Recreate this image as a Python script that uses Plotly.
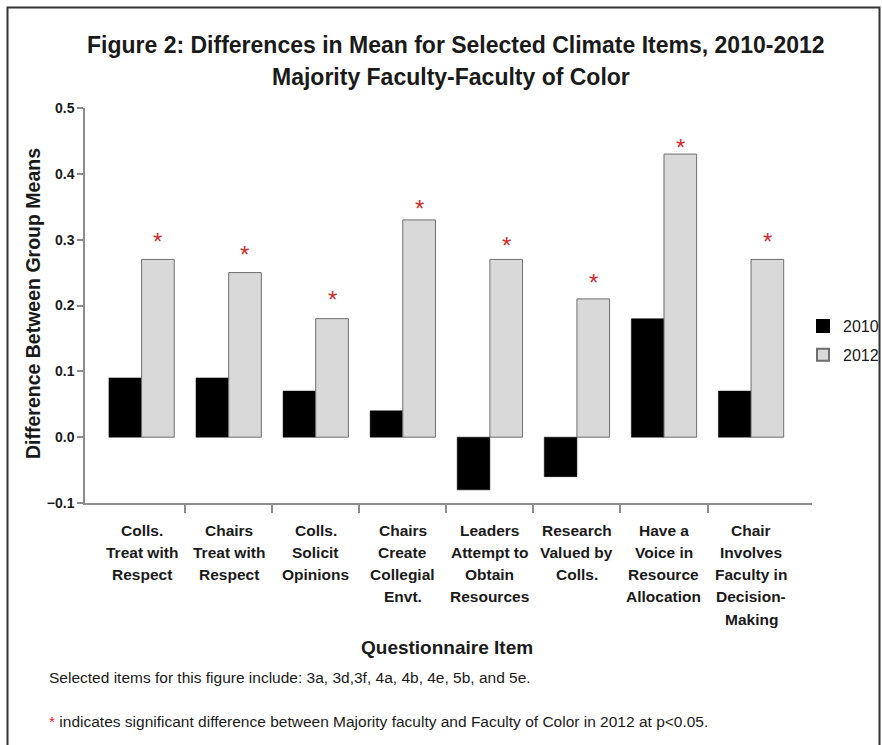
import plotly.graph_objects as go

# Questionnaire items (one entry per text line) and group-mean differences
items = [
    ["Colls.", "Treat with", "Respect"],
    ["Chairs", "Treat with", "Respect"],
    ["Colls.", "Solicit", "Opinions"],
    ["Chairs", "Create", "Collegial", "Envt."],
    ["Leaders", "Attempt to", "Obtain", "Resources"],
    ["Research", "Valued by", "Colls."],
    ["Have a", "Voice in", "Resource", "Allocation"],
    ["Chair", "Involves", "Faculty in", "Decision-", "Making"],
]
diff_2010 = [0.09, 0.09, 0.07, 0.04, -0.08, -0.06, 0.18, 0.07]
diff_2012 = [0.27, 0.25, 0.18, 0.33, 0.27, 0.21, 0.43, 0.27]
# height at which each significance asterisk is printed
star_level = [0.302, 0.282, 0.213, 0.352, 0.296, 0.240, 0.444, 0.302]
y_ticks = [-0.1, 0.0, 0.1, 0.2, 0.3, 0.4, 0.5]

FONT = "Liberation Sans, Arial, sans-serif"
INK = "#1a1a1a"
RED = "#d42a2a"
AXIS_GRAY = "#8c8c8c"

W, H = 882, 745
L, R, T, B = 85, 70, 108, 242
plot_w = W - L - R
plot_h = H - T - B


def px_x(p):
    return (p - L) / plot_w


def px_y(p):
    return (H - B - p) / plot_h


xs = list(range(len(items)))
BARGAP = 0.25
bar_w = (1 - BARGAP) / 2

fig = go.Figure()
fig.add_trace(go.Bar(
    x=xs, y=diff_2010, name="2010", legendgroup="a",
    marker=dict(color="#000000", line=dict(color="#000000", width=0.5)),
))
fig.add_trace(go.Bar(
    x=xs, y=diff_2012, name="2012", legendgroup="b",
    marker=dict(color="#d9d9d9", line=dict(color="#6e6e6e", width=1)),
))

annotations = []
# significance asterisks over the 2012 bars
for i, lvl in enumerate(star_level):
    annotations.append(dict(
        x=i + bar_w / 2, y=lvl, xref="x", yref="y", text="*",
        showarrow=False, yanchor="middle", yshift=-3,
        font=dict(family=FONT, size=24, color=RED),
    ))
# category labels under the axis, one annotation per line
LINE_STEP = 22.3
for i, lines in enumerate(items):
    for k, line in enumerate(lines):
        annotations.append(dict(
            x=i, y=px_y(530 + LINE_STEP * k), xref="x", yref="paper",
            text="<b>" + line + "</b>", showarrow=False,
            xanchor="center", yanchor="middle",
            font=dict(family=FONT, size=15.5, color=INK),
        ))

annotations += [
    dict(x=px_x(456), y=px_y(45), xref="paper", yref="paper",
         text="<b>Figure 2: Differences in Mean for Selected Climate Items, 2010-2012</b>",
         showarrow=False, xanchor="center", yanchor="middle",
         font=dict(family=FONT, size=23, color=INK)),
    dict(x=px_x(451), y=px_y(77), xref="paper", yref="paper",
         text="<b>Majority Faculty-Faculty of Color</b>",
         showarrow=False, xanchor="center", yanchor="middle",
         font=dict(family=FONT, size=23, color=INK)),
    dict(x=px_x(33), y=px_y(304), xref="paper", yref="paper",
         text="<b>Difference Between Group Means</b>", textangle=-90,
         showarrow=False, xanchor="center", yanchor="middle",
         font=dict(family=FONT, size=19.5, color=INK)),
    dict(x=px_x(447), y=px_y(647), xref="paper", yref="paper",
         text="<b>Questionnaire Item</b>",
         showarrow=False, xanchor="center", yanchor="middle",
         font=dict(family=FONT, size=19, color=INK)),
    dict(x=px_x(47), y=px_y(677), xref="paper", yref="paper",
         text="Selected items for this figure include: 3a, 3d,3f, 4a, 4b, 4e, 5b, and 5e.",
         showarrow=False, xanchor="left", yanchor="middle",
         font=dict(family=FONT, size=15.5, color=INK)),
    dict(x=px_x(47), y=px_y(722), xref="paper", yref="paper",
         text="<span style='color:" + RED + "'>*</span> indicates significant difference between Majority faculty and Faculty of Color in 2012 at p<0.05.",
         showarrow=False, xanchor="left", yanchor="middle",
         font=dict(family=FONT, size=15.5, color=INK)),
]

fig.update_layout(
    width=W, height=H,
    margin=dict(l=L, r=R, t=T, b=B, autoexpand=False),
    paper_bgcolor="white", plot_bgcolor="white",
    barmode="group", bargap=BARGAP, bargroupgap=0,
    showlegend=True,
    legend=dict(x=px_x(803), y=px_y(309), xanchor="left", yanchor="top",
                font=dict(family=FONT, size=16, color=INK),
                itemsizing="constant", tracegroupgap=5,
                bgcolor="rgba(0,0,0,0)"),
    xaxis=dict(
        range=[-0.65, 7.7], showgrid=False, zeroline=False,
        tickvals=[i + 0.5 for i in range(len(items) - 1)],
        showticklabels=False, ticks="outside", ticklen=8,
        tickcolor=AXIS_GRAY, tickwidth=1.5,
        showline=True, linecolor=AXIS_GRAY, linewidth=1.5,
    ),
    yaxis=dict(
        range=[-0.1, 0.5], showgrid=False, zeroline=False,
        tickvals=y_ticks, tickformat=".1f",
        ticks="outside", ticklen=6, tickcolor=AXIS_GRAY, tickwidth=1.5,
        showline=True, linecolor=AXIS_GRAY, linewidth=1.5,
        tickfont=dict(family=FONT, size=14, color=INK, weight="bold"),
    ),
    annotations=annotations,
    shapes=[dict(type="rect", xref="paper", yref="paper",
                 x0=px_x(7.5), x1=px_x(879.5), y0=px_y(760), y1=px_y(7.5),
                 line=dict(color="#333333", width=2), layer="below")],
)

fig.write_html("out.html")
